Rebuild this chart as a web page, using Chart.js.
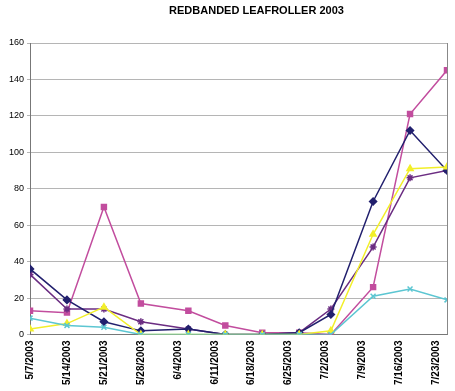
<!DOCTYPE html>
<html>
<head>
<meta charset="utf-8">
<script src="https://cdn.jsdelivr.net/npm/chart.js@4/dist/chart.umd.min.js"></script>
<style>
  html, body { margin: 0; padding: 0; background: #fff; }
  #wrap { position: relative; width: 455px; height: 391px; }
  #title {
    position: absolute; left: 58px; right: 0; top: 4px;
    text-align: center; font: bold 11px "Liberation Sans", Arial, sans-serif; color: #000;
  }
</style>
</head>
<body>
<div id="wrap">
  <div id="title">REDBANDED LEAFROLLER 2003</div>
  <canvas id="chart" width="455" height="391"></canvas>
</div>
<script>
// tick labels on the x axis (weekly)
const tickLabels = ["5/7/2003", "5/14/2003", "5/21/2003", "5/28/2003", "6/4/2003", "6/11/2003",
  "6/18/2003", "6/25/2003", "7/2/2003", "7/9/2003", "7/16/2003", "7/23/2003"];

// sampling dates (not always on the tick dates)
const sampleDates = ["5/7/2003", "5/14/2003", "5/21/2003", "5/28/2003", "6/6/2003", "6/13/2003",
  "6/20/2003", "6/27/2003", "7/3/2003", "7/11/2003", "7/18/2003", "7/25/2003"];

const seriesNavy    = [36, 19, 7, 2, 3, 0, 0, 1, 11, 73, 112, 90];
const seriesMagenta = [13, 12, 70, 17, 13, 5, 1, 1, 0, 26, 121, 145];
const seriesYellow  = [3, 6, 15, 0, 0, 0, 0, 0, 2, 55, 91, 92];
const seriesCyan    = [9, 5, 4, 0, 0, 0, 0, 0, 0, 21, 25, 19];
const seriesPurple  = [33, 14, 14, 7, 3, 0, 0, 1, 14, 48, 86, 90];

// days since the first tick date
function dayNum(s){
  const [m, d, y] = s.split("/").map(Number);
  const t0 = Date.UTC(2003, 4, 7);
  return Math.round((Date.UTC(y, m - 1, d) - t0) / 86400000);
}
const tickDays = tickLabels.map(dayNum);
const sampleDays = sampleDates.map(dayNum);

function pts(vals){
  return vals.map((v, i) => ({ x: sampleDays[i], y: v }));
}

function ds(vals, color, style, radius){
  return {
    data: pts(vals),
    borderColor: color,
    backgroundColor: color,
    borderWidth: 1.5,
    pointStyle: style,
    pointRadius: radius,
    pointBorderWidth: 1.5,
    pointBorderColor: color,
    pointBackgroundColor: color,
    tension: 0
  };
}

new Chart(document.getElementById("chart"), {
  type: "line",
  data: {
    datasets: [
      ds(seriesCyan, "#5cc6d2", "crossRot", 3.5),
      ds(seriesYellow, "#f2ef2a", "triangle", 3.5),
      ds(seriesNavy, "#22206e", "rectRot", 3.5),
      ds(seriesPurple, "#6b2d82", "star", 3.5),
      ds(seriesMagenta, "#c24d9e", "rect", 3.5)
    ]
  },
  options: {
    responsive: false,
    animation: false,
    layout: { padding: { left: 6, right: 8, top: 43, bottom: 4 } },
    plugins: {
      legend: { display: false },
      title: { display: false },
      tooltip: { enabled: false }
    },
    scales: {
      x: {
        type: "linear",
        min: 0,
        max: dayNum("7/25/2003"),
        afterBuildTicks: axis => { axis.ticks = tickDays.map(v => ({ value: v })); },
        grid: { display: false, drawOnChartArea: false, drawTicks: true, tickLength: 4, color: "#777" },
        border: { display: true, color: "#777", width: 1 },
        ticks: {
          autoSkip: false,
          minRotation: 90,
          maxRotation: 90,
          padding: 2,
          color: "#000",
          font: { family: "Liberation Sans", size: 10, weight: "bold" },
          callback: (v, i) => tickLabels[i]
        }
      },
      y: {
        min: 0,
        max: 160,
        ticks: {
          stepSize: 20,
          padding: 3,
          color: "#000",
          font: { family: "Liberation Sans", size: 9 }
        },
        grid: { color: "#b5b5b5", lineWidth: 1, tickLength: 3 },
        border: { color: "#777", width: 1 }
      }
    }
  },
  plugins: [{
    id: "frame",
    afterDraw(chart){
      const a = chart.chartArea, c = chart.ctx;
      c.save();
      c.strokeStyle = "#888";
      c.lineWidth = 1;
      c.beginPath();
      c.moveTo(a.right + 0.5, a.top);
      c.lineTo(a.right + 0.5, a.bottom);
      c.stroke();
      c.restore();
    }
  }]
});
</script>
</body>
</html>
